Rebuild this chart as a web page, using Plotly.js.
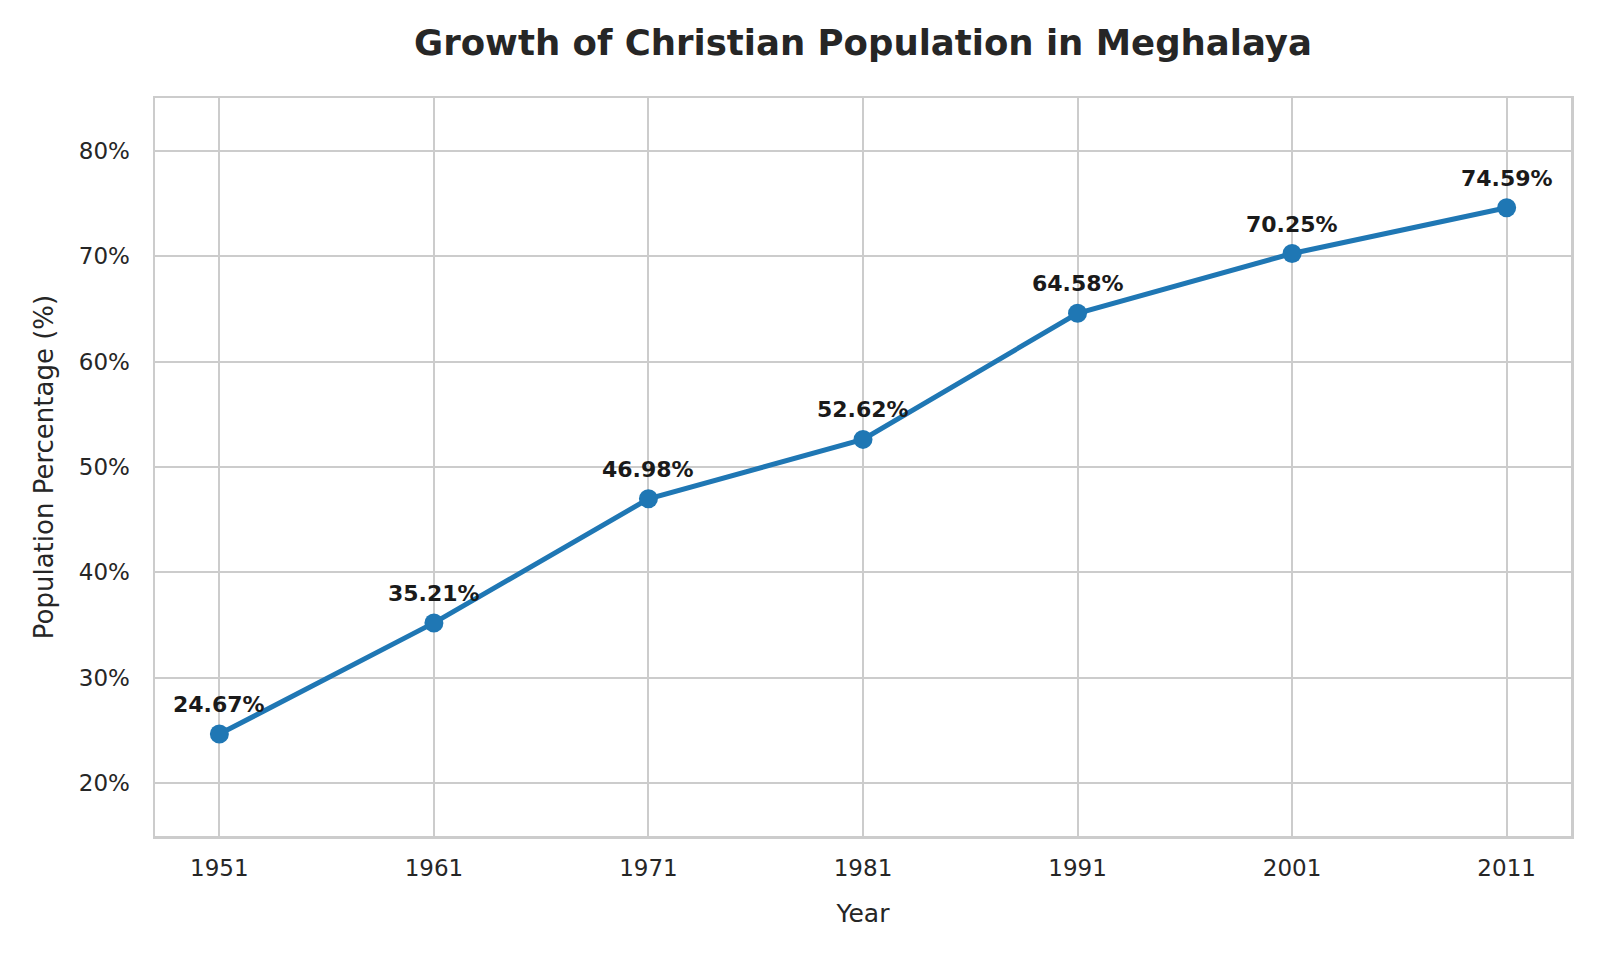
<!DOCTYPE html>
<html>
<head>
<meta charset="utf-8">
<script src="https://cdn.plot.ly/plotly-3.0.1.min.js"></script>
<style>
  html, body { margin: 0; padding: 0; background: #ffffff; }
  #chart { width: 1600px; height: 960px; }
</style>
</head>
<body>
<div id="chart"></div>
<script>
// census years and share of Christians in Meghalaya
var years = [1951, 1961, 1971, 1981, 1991, 2001, 2011];
var percent = [24.67, 35.21, 46.98, 52.62, 64.58, 70.25, 74.59];
var yTicks = [20, 30, 40, 50, 60, 70, 80];

var lineColor = '#1f77b4';
var gridColor = '#cccccc';
var fontName = 'DejaVu Sans, sans-serif';

var trace = {
    x: years,
    y: percent,
    type: 'scatter',
    mode: 'lines+markers',
    line: { color: lineColor, width: 5 },
    marker: { color: lineColor, size: 19 },
    hoverinfo: 'x+y'
};

// value labels above each point
var labels = [];
for (var i = 0; i < years.length; i++) {
    labels.push({
        x: years[i],
        y: percent[i],
        text: percent[i].toFixed(2) + '%',
        showarrow: false,
        yanchor: 'bottom',
        yshift: 15,
        font: { family: fontName, size: 22, color: '#1a1a1a', weight: 'bold' }
    });
}

var layout = {
    width: 1600,
    height: 960,
    paper_bgcolor: '#ffffff',
    plot_bgcolor: '#ffffff',
    margin: { l: 155, r: 29, t: 98, b: 124 },
    showlegend: false,
    font: { family: fontName, color: '#262626' },
    title: {
        text: '<b>Growth of Christian Population in Meghalaya</b>',
        x: 0.5,
        xref: 'paper',
        xanchor: 'center',
        y: 0.956,
        yanchor: 'middle',
        font: { family: fontName, size: 35.5, color: '#262626' }
    },
    xaxis: {
        range: [1948, 2014],
        tickvals: years,
        ticktext: years.map(String),
        ticks: '',
        ticklabelstandoff: 10,
        tickfont: { size: 23, color: '#262626' },
        showgrid: true,
        gridcolor: gridColor,
        gridwidth: 2,
        zeroline: false,
        showline: true,
        mirror: true,
        linecolor: gridColor,
        linewidth: 2.5,
        title: {
            text: 'Year',
            standoff: 25,
            font: { size: 25, color: '#262626' }
        }
    },
    yaxis: {
        range: [15, 85],
        tickvals: yTicks,
        ticktext: yTicks.map(function (v) { return v + '%'; }),
        ticks: '',
        ticklabelstandoff: 18,
        tickfont: { size: 23, color: '#262626' },
        showgrid: true,
        gridcolor: gridColor,
        gridwidth: 2,
        zeroline: false,
        showline: true,
        mirror: true,
        linecolor: gridColor,
        linewidth: 2.5,
        title: {
            text: 'Population Percentage (%)',
            standoff: 18,
            font: { size: 26, color: '#262626' }
        }
    },
    annotations: labels
};

Plotly.newPlot('chart', [trace], layout, { displayModeBar: false, staticPlot: true });
</script>
</body>
</html>
